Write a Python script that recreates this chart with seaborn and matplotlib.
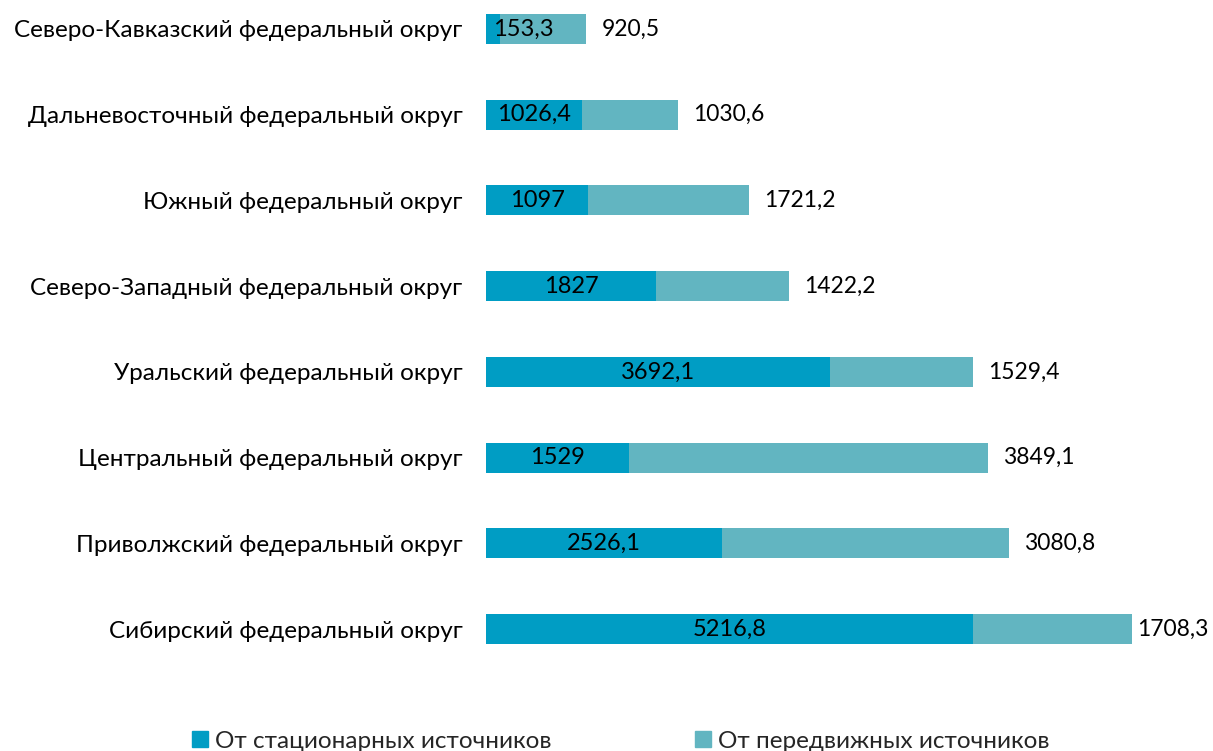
import numpy as np
import pandas as pd
import matplotlib
matplotlib.use('Agg')
import matplotlib.pyplot as plt
import matplotlib.patches as mpatches
import seaborn as sns

# данные (сверху вниз)
regions = ['Северо-Кавказский федеральный округ', 'Дальневосточный федеральный округ',
           'Южный федеральный округ', 'Северо-Западный федеральный округ',
           'Уральский федеральный округ', 'Центральный федеральный округ',
           'Приволжский федеральный округ', 'Сибирский федеральный округ']
stationary = [153.3, 1026.4, 1097, 1827, 3692.1, 1529, 2526.1, 5216.8]
mobile = [920.5, 1030.6, 1721.2, 1422.2, 1529.4, 3849.1, 3080.8, 1708.3]
series_names = ['От стационарных источников', 'От передвижных источников']

c_stat = '#009dc4'
c_mob = '#62b5c1'

df = pd.DataFrame({'region': regions, 'stat': stationary, 'mob': mobile})
df['total'] = df['stat'] + df['mob']

sns.set_style('white')
plt.rcParams['font.family'] = ['Lato', 'DejaVu Sans']

fs = 17.5
fig = plt.figure(figsize=(12.13, 7.51), dpi=100)
ax = fig.add_axes([0.4007, 0.0945, 0.5804, 0.9055])

sns.barplot(data=df, x='total', y='region', color=c_mob, orient='h', width=0.35,
            saturation=1, linewidth=0, ax=ax)
sns.barplot(data=df, x='stat', y='region', color=c_stat, orient='h', width=0.35,
            saturation=1, linewidth=0, ax=ax)

ax.set_xlim(0, 7550)
ax.set_ylim(7.595, -0.338)
ax.set_xlabel('')
ax.set_ylabel('')
ax.set_xticks([])
ax.tick_params(axis='y', length=0, pad=17, labelsize=fs, labelcolor='black')
for s in ax.spines.values():
    s.set_visible(False)

for i, row in df.iterrows():
    # подпись стационарных внутри сегмента
    lab = f"{row['stat']:g}".replace('.', ',')
    if row['stat'] < 600:
        ax.annotate(lab, (0, i), xytext=(5, 0), textcoords='offset points',
                    ha='left', va='center', fontsize=17, color='black')
    else:
        ax.text(row['stat'] / 2, i, lab, ha='center', va='center', fontsize=17, color='black')
    # подпись передвижных справа (у самого длинного бара — ближе)
    off = 4 if row['total'] > 6500 else 11
    ax.annotate(f"{row['mob']:g}".replace('.', ','), (row['total'], i),
                xytext=(off, 0), textcoords='offset points', ha='left', va='center',
                fontsize=16.5, color='black')

handles = [mpatches.Patch(color=c_stat), mpatches.Patch(color=c_mob)]
fig.legend(handles, series_names, loc='center', bbox_to_anchor=(0.512, 0.013), ncol=2,
           frameon=False, fontsize=fs, handlelength=0.65, handleheight=0.65,
           handletextpad=0.3, columnspacing=5.9)

fig.savefig('out.png', dpi=100)
